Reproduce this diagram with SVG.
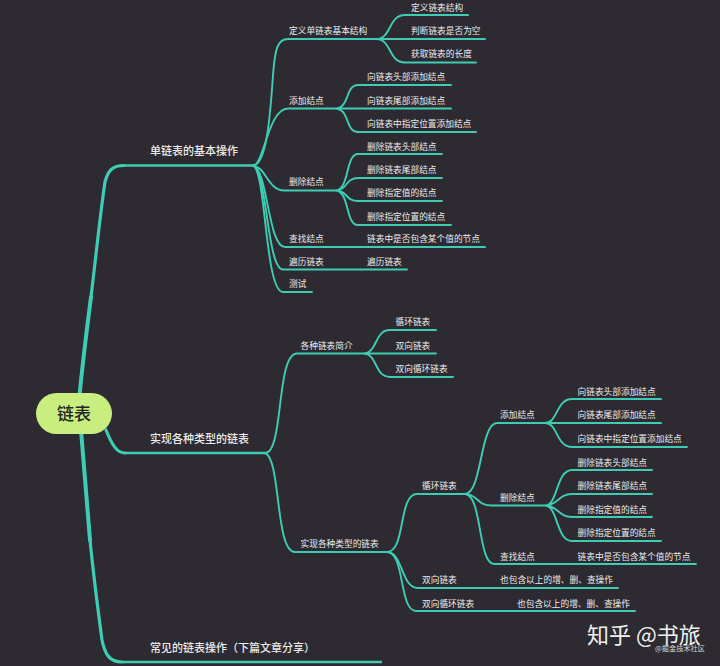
<svg xmlns="http://www.w3.org/2000/svg" width="720" height="666" viewBox="0 0 720 666">
<style>
text{font-family:"Noto Sans CJK SC","Liberation Sans",sans-serif;fill:#ececec}
.l{font-size:8.7px}
.m{font-size:11px;font-weight:500}
#connectors path{fill:none;stroke:#3ecdb4;stroke-linecap:round}
.a{stroke-width:4}.a2{stroke-width:3.2}.b{stroke-width:2.4}.c{stroke-width:1.9}
</style>
<rect width="720" height="666" fill="#2d2a32"/>
<g id="connectors">
<path class="a" d="M79 400C84 350 88 320 91 297"/>
<path class="a2" d="M91 297C95 265 100 215 105 182C108 170 113 165.500 124 165.500"/>
<path class="a" d="M81 430C84 470 87 500 90 540"/>
<path class="a2" d="M90 540C93 570 98 610 102 640C105 655 110 662 122 662"/>
<path class="a2" d="M106 430C112 445 117 453 125 453"/>
<path class="b" d="M124 165.500H253M125 453H265M122 662H381"/>
<path class="c" d="M253 165.500C266 165.500 270 120 273 75C275 50 277 39 288 39H376C392 39 388 15 405 15H468M376 39H485M376 39C392 39 388 62.500 405 62.500H476"/>
<path class="c" d="M253 165.500C264 165.500 268 108.500 288 108.500H335C350 108.500 345 85 358 85H451M335 108.500H451M335 108.500C350 108.500 345 132 358 132H476"/>
<path class="c" d="M253 165.500C266 167 268 190.500 284 190.500H335C350 190.500 345 154 358 154H442M335 190.500C348 190.500 345 178 358 178H442M335 190.500C348 190.500 345 201 358 201H442M335 190.500C350 190.500 345 225 358 225H451"/>
<path class="c" d="M253 165.500C268 170 268 247 285 247H485"/>
<path class="c" d="M253 165.500C267 170 267 269.500 283 269.500H407"/>
<path class="c" d="M253 165.500C266 170 265 292 283 292H312"/>
<path class="c" d="M265 453C284 453 276 353.500 297 353.500H363C378 353.500 374 330 390 330H436M363 353.500H436M363 353.500C378 353.500 374 377 390 377H453"/>
<path class="c" d="M265 453C281 458 275 552 295 552H387"/>
<path class="c" d="M387 552C406 552 398 494 417 494H465C482 494 480 423 497 423H545C558 423 556 399 572 399H661M545 423H661M545 423C558 423 556 447 572 447H687"/>
<path class="c" d="M465 494C478 494 476 505.500 492 505.500H545C558 505.500 556 470 572 470H652M545 505.500C558 505.500 558 494 572 494H652M545 505.500C558 505.500 558 517 572 517H652M545 505.500C558 505.500 556 541 572 541H661"/>
<path class="c" d="M465 494C482 494 478 564 494 564H696"/>
<path class="c" d="M387 552C403 552 401 588 418 588H618"/>
<path class="c" d="M387 552C405 552 399 611 416 611H635"/>
</g>
<g id="root"><rect x="36" y="393" width="76" height="41" rx="20.500" fill="#c9ee80"/><text x="74" y="420" text-anchor="middle" style="font-size:17px;fill:#262626;font-weight:500">链表</text></g>
<g id="n1"><text class="m" x="150" y="155">单链表的基本操作</text></g>
<g id="n2"><text class="m" x="150" y="443">实现各种类型的链表</text></g>
<g id="n3"><text class="m" x="150" y="652">常见的链表操作（下篇文章分享）</text></g>
<g id="n4"><text class="l" x="289" y="34">定义单链表基本结构</text></g>
<g id="n5"><text class="l" x="411" y="10.500">定义链表结构</text></g>
<g id="n6"><text class="l" x="411" y="34">判断链表是否为空</text></g>
<g id="n7"><text class="l" x="411" y="57">获取链表的长度</text></g>
<g id="n8"><text class="l" x="289" y="103.500">添加结点</text></g>
<g id="n9"><text class="l" x="367" y="80">向链表头部添加结点</text></g>
<g id="n10"><text class="l" x="367" y="103.500">向链表尾部添加结点</text></g>
<g id="n11"><text class="l" x="367" y="127">向链表中指定位置添加结点</text></g>
<g id="n12"><text class="l" x="289" y="184.500">删除结点</text></g>
<g id="n13"><text class="l" x="367" y="149.500">删除链表头部结点</text></g>
<g id="n14"><text class="l" x="367" y="172.500">删除链表尾部结点</text></g>
<g id="n15"><text class="l" x="367" y="196">删除指定值的结点</text></g>
<g id="n16"><text class="l" x="367" y="219.500">删除指定位置的结点</text></g>
<g id="n17"><text class="l" x="289" y="242">查找结点</text></g>
<g id="n18"><text class="l" x="367" y="242">链表中是否包含某个值的节点</text></g>
<g id="n19"><text class="l" x="289" y="264.500">遍历链表</text></g>
<g id="n20"><text class="l" x="367" y="264.500">遍历链表</text></g>
<g id="n21"><text class="l" x="289" y="286.500">测试</text></g>
<g id="n22"><text class="l" x="300.500" y="349">各种链表简介</text></g>
<g id="n23"><text class="l" x="395.500" y="325">循环链表</text></g>
<g id="n24"><text class="l" x="395.500" y="349">双向链表</text></g>
<g id="n25"><text class="l" x="395.500" y="372">双向循环链表</text></g>
<g id="n26"><text class="l" x="300.500" y="547">实现各种类型的链表</text></g>
<g id="n27"><text class="l" x="422" y="489">循环链表</text></g>
<g id="n28"><text class="l" x="500" y="418">添加结点</text></g>
<g id="n29"><text class="l" x="577.500" y="394.500">向链表头部添加结点</text></g>
<g id="n30"><text class="l" x="577.500" y="418">向链表尾部添加结点</text></g>
<g id="n31"><text class="l" x="577.500" y="442">向链表中指定位置添加结点</text></g>
<g id="n32"><text class="l" x="500" y="501">删除结点</text></g>
<g id="n33"><text class="l" x="577.500" y="465.500">删除链表头部结点</text></g>
<g id="n34"><text class="l" x="577.500" y="489">删除链表尾部结点</text></g>
<g id="n35"><text class="l" x="577.500" y="512.500">删除指定值的结点</text></g>
<g id="n36"><text class="l" x="577.500" y="536">删除指定位置的结点</text></g>
<g id="n37"><text class="l" x="500" y="559.500">查找结点</text></g>
<g id="n38"><text class="l" x="577.500" y="559.500">链表中是否包含某个值的节点</text></g>
<g id="n39"><text class="l" x="422" y="583">双向链表</text></g>
<g id="n40"><text class="l" x="500" y="583">也包含以上的增、删、查操作</text></g>
<g id="n41"><text class="l" x="422" y="607">双向循环链表</text></g>
<g id="n42"><text class="l" x="517" y="607">也包含以上的增、删、查操作</text></g>
<text x="587" y="643" style="font-size:22px;fill:#f0f0f0">知乎 @书旅</text>
<text x="655" y="651" style="font-size:7.200px;fill:#d8d8d8">@掘金技术社区</text>
</svg>
